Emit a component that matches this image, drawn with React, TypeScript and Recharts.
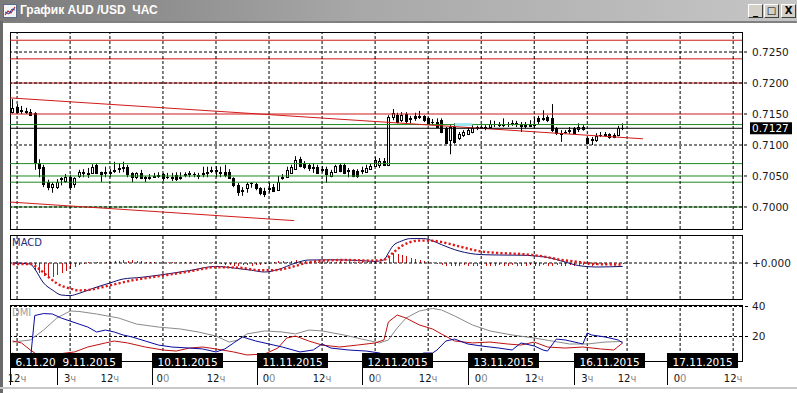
import React from "react";
import { ComposedChart, Bar, Line, XAxis, YAxis, ReferenceLine } from "recharts";

const FONT = "'DejaVu Sans', Verdana, sans-serif";

// одна свеча = один час, индекс 0 = 6.11 11:00
const OPEN = [
  0.7153, 0.7161, 0.7156, 0.7155, 0.7153, 0.7152, 0.7071, 0.7065, 0.7040, 0.7032,
  0.7032, 0.7045, 0.7042, 0.7048, 0.7037, 0.7050, 0.7055, 0.7055, 0.7056, 0.7068,
  0.7056, 0.7056, 0.7057, 0.7059, 0.7062, 0.7063, 0.7064, 0.7055, 0.7048, 0.7055,
  0.7048, 0.7047, 0.7049, 0.7050, 0.7053, 0.7048, 0.7048, 0.7052, 0.7047, 0.7052,
  0.7054, 0.7053, 0.7052, 0.7054, 0.7056, 0.7059, 0.7058, 0.7057, 0.7057, 0.7056,
  0.7047, 0.7035, 0.7027, 0.7031, 0.7039, 0.7037, 0.7031, 0.7026, 0.7030, 0.7032,
  0.7027, 0.7048, 0.7048, 0.7056, 0.7061, 0.7077, 0.7071, 0.7068, 0.7065, 0.7065,
  0.7061, 0.7061, 0.7050, 0.7056, 0.7068, 0.7068, 0.7060, 0.7060, 0.7058, 0.7059,
  0.7056, 0.7061, 0.7066, 0.7068, 0.7074, 0.7068, 0.7145, 0.7148, 0.7140, 0.7150,
  0.7143, 0.7147, 0.7145, 0.7147, 0.7143, 0.7137, 0.7137, 0.7140, 0.7127, 0.7108,
  0.7129, 0.7111, 0.7116, 0.7118, 0.7121, 0.7129, 0.7129, 0.7128, 0.7129, 0.7134,
  0.7134, 0.7133, 0.7134, 0.7135, 0.7135, 0.7134, 0.7131, 0.7132, 0.7133, 0.7144,
  0.7143, 0.7145, 0.7143, 0.7127, 0.7120, 0.7121, 0.7123, 0.7127, 0.7126, 0.7129,
  0.7111, 0.7108, 0.7108, 0.7116, 0.7117, 0.7118, 0.7116, 0.7116, 0.7127,
];
const HIGH = [
  0.7174, 0.7166, 0.7163, 0.7160, 0.7158, 0.7153, 0.7077, 0.7068, 0.7044, 0.7040,
  0.7045, 0.7048, 0.7053, 0.7052, 0.7048, 0.7060, 0.7061, 0.7063, 0.7069, 0.7071,
  0.7057, 0.7065, 0.7061, 0.7073, 0.7071, 0.7073, 0.7068, 0.7056, 0.7056, 0.7060,
  0.7050, 0.7053, 0.7055, 0.7056, 0.7055, 0.7055, 0.7055, 0.7056, 0.7056, 0.7056,
  0.7058, 0.7056, 0.7055, 0.7065, 0.7065, 0.7065, 0.7066, 0.7065, 0.7068, 0.7061,
  0.7048, 0.7039, 0.7032, 0.7040, 0.7040, 0.7039, 0.7032, 0.7031, 0.7039, 0.7037,
  0.7050, 0.7053, 0.7065, 0.7068, 0.7082, 0.7081, 0.7074, 0.7071, 0.7071, 0.7068,
  0.7066, 0.7065, 0.7060, 0.7068, 0.7071, 0.7071, 0.7063, 0.7061, 0.7061, 0.7065,
  0.7068, 0.7071, 0.7081, 0.7079, 0.7079, 0.7148, 0.7158, 0.7152, 0.7153, 0.7153,
  0.7147, 0.7152, 0.7155, 0.7148, 0.7145, 0.7142, 0.7143, 0.7143, 0.7129, 0.7132,
  0.7135, 0.7121, 0.7124, 0.7129, 0.7132, 0.7131, 0.7132, 0.7132, 0.7140, 0.7139,
  0.7137, 0.7143, 0.7137, 0.7140, 0.7139, 0.7137, 0.7137, 0.7140, 0.7145, 0.7147,
  0.7156, 0.7148, 0.7166, 0.7129, 0.7124, 0.7124, 0.7129, 0.7129, 0.7135, 0.7132,
  0.7113, 0.7113, 0.7119, 0.7121, 0.7121, 0.7119, 0.7119, 0.7131, 0.7135,
];
const LOW = [
  0.7151, 0.7151, 0.7150, 0.7150, 0.7147, 0.7060, 0.7048, 0.7032, 0.7027, 0.7023,
  0.7029, 0.7035, 0.7039, 0.7027, 0.7031, 0.7047, 0.7048, 0.7047, 0.7055, 0.7053,
  0.7040, 0.7048, 0.7048, 0.7055, 0.7055, 0.7056, 0.7048, 0.7040, 0.7045, 0.7045,
  0.7040, 0.7044, 0.7047, 0.7047, 0.7042, 0.7045, 0.7042, 0.7042, 0.7044, 0.7048,
  0.7048, 0.7048, 0.7045, 0.7048, 0.7048, 0.7055, 0.7048, 0.7048, 0.7048, 0.7046,
  0.7032, 0.7018, 0.7018, 0.7023, 0.7031, 0.7027, 0.7019, 0.7016, 0.7023, 0.7024,
  0.7026, 0.7044, 0.7047, 0.7055, 0.7060, 0.7064, 0.7061, 0.7058, 0.7055, 0.7055,
  0.7056, 0.7039, 0.7048, 0.7055, 0.7056, 0.7053, 0.7048, 0.7048, 0.7047, 0.7053,
  0.7055, 0.7060, 0.7065, 0.7063, 0.7066, 0.7066, 0.7140, 0.7135, 0.7137, 0.7135,
  0.7135, 0.7139, 0.7142, 0.7137, 0.7132, 0.7132, 0.7127, 0.7119, 0.7102, 0.7085,
  0.7102, 0.7108, 0.7113, 0.7116, 0.7119, 0.7124, 0.7126, 0.7124, 0.7126, 0.7129,
  0.7129, 0.7129, 0.7129, 0.7131, 0.7129, 0.7121, 0.7127, 0.7129, 0.7127, 0.7134,
  0.7139, 0.7137, 0.7121, 0.7116, 0.7105, 0.7118, 0.7118, 0.7118, 0.7121, 0.7123,
  0.7101, 0.7100, 0.7105, 0.7113, 0.7113, 0.7110, 0.7111, 0.7114, 0.7124,
];
const CLOSE = [
  0.7160, 0.7153, 0.7155, 0.7153, 0.7148, 0.7071, 0.7063, 0.7037, 0.7032, 0.7037,
  0.7040, 0.7046, 0.7048, 0.7032, 0.7047, 0.7056, 0.7056, 0.7054, 0.7065, 0.7055,
  0.7052, 0.7057, 0.7056, 0.7060, 0.7063, 0.7065, 0.7053, 0.7048, 0.7055, 0.7047,
  0.7046, 0.7048, 0.7050, 0.7052, 0.7047, 0.7048, 0.7049, 0.7045, 0.7048, 0.7053,
  0.7055, 0.7053, 0.7051, 0.7055, 0.7057, 0.7060, 0.7059, 0.7056, 0.7052, 0.7047,
  0.7035, 0.7023, 0.7028, 0.7037, 0.7039, 0.7031, 0.7023, 0.7021, 0.7031, 0.7026,
  0.7040, 0.7049, 0.7060, 0.7065, 0.7076, 0.7066, 0.7065, 0.7063, 0.7064, 0.7056,
  0.7062, 0.7053, 0.7056, 0.7066, 0.7058, 0.7055, 0.7059, 0.7050, 0.7050, 0.7060,
  0.7063, 0.7066, 0.7076, 0.7074, 0.7068, 0.7145, 0.7152, 0.7137, 0.7148, 0.7139,
  0.7144, 0.7144, 0.7146, 0.7140, 0.7135, 0.7137, 0.7129, 0.7121, 0.7103, 0.7129,
  0.7105, 0.7118, 0.7121, 0.7124, 0.7127, 0.7129, 0.7128, 0.7129, 0.7134, 0.7134,
  0.7133, 0.7134, 0.7134, 0.7136, 0.7134, 0.7130, 0.7132, 0.7133, 0.7134, 0.7139,
  0.7144, 0.7140, 0.7124, 0.7119, 0.7119, 0.7121, 0.7124, 0.7119, 0.7129, 0.7126,
  0.7103, 0.7109, 0.7115, 0.7116, 0.7118, 0.7113, 0.7113, 0.7127, 0.7127,
];
const LAST_PRICE = 0.7127;

const PRICE_TICKS = [0.7, 0.705, 0.71, 0.715, 0.72, 0.725];
const PRICE_GRID = [0.7, 0.71, 0.72, 0.725];
const RED_LEVELS = [0.7269, 0.7239, 0.72, 0.715];
const GREEN_LEVELS = [0.7133, 0.707, 0.705, 0.704, 0.7];
const CHANNEL_TOP = [{ x: -0.6, y: 0.7176 }, { x: 142.6, y: 0.711 }];
const CHANNEL_BOTTOM = [{ x: -0.6, y: 0.7008 }, { x: 63.7, y: 0.6978 }];
const CYAN_MARK = [{ x: 100, y: 0.7133 }, { x: 104, y: 0.7133 }];

// MACD: гистограмма по каждой свече, линии по опорным точкам [бар, значение]
const MACD_HIST = [
  0.000025, 0.000025, 0, -0.000025, -0.0001, -0.00035, -0.0005, -0.00065, -0.00075, -0.0007,
  -0.0006, -0.0005, -0.0004, -0.0003, -0.0002, -0.0001, -0.00005, 0.00005, 0.000025, 0.00005,
  0.000025, 0.00005, 0.00005, 0.0001, 0.0001, 0.00015, 0.0001, 0.00015, 0.0001, 0.0001,
  0.00005, 0.00005, 0.00005, 0.000025, 0.00005, 0.000025, 0.00005, 0.000025, 0.000025, 0.00005,
  0.00005, 0.000025, 0.00005, 0.00005, 0.000025, 0.00005, 0.000025, -0.00005, -0.0001, -0.0001,
  -0.00015, -0.00015, -0.0001, -0.0001, -0.00015, -0.0001, -0.0001, -0.00005, -0.00005, 0.00005,
  0.0001, 0.0001, 0.00005, 0.0001, 0.00015, 0.0001, 0.0001, 0.00005, 0.0001, 0.00005,
  0.00005, 0.0001, 0.00005, 0.00005, 0.0001, 0.00005, 0.0001, 0.00005, 0.00005, 0.0001,
  0.00005, 0.00005, 0.0001, 0.00005, 0.00005, 0.0003, 0.0005, 0.00045, 0.0004, 0.00035,
  0.00025, 0.0002, 0.00015, 0.0001, 0.00005, 0.000025, -0.00005, -0.0001, -0.00015, -0.00015,
  -0.00015, -0.00015, -0.0001, -0.00015, -0.00015, -0.00015, -0.0001, -0.00015, -0.00015, -0.00015,
  -0.0001, -0.00015, -0.00015, -0.0001, -0.00015, -0.00015, -0.00015, -0.0001, -0.00015, -0.00015,
  -0.0001, -0.00015, -0.00015, -0.0001, -0.00015, -0.00015, -0.0001, -0.00015, -0.00015, -0.0001,
  -0.0001, -0.00015, -0.0001, -0.0001, -0.0001, -0.00005, -0.0001, -0.00005, -0.00005,
];
const MACD_LINE = [
  [0, 0], [4, -0.00005], [5, -0.0003], [7, -0.001], [9, -0.00135], [11, -0.0016], [13, -0.00163],
  [15, -0.00152], [18, -0.00128], [22, -0.001], [25, -0.0008], [29, -0.00072], [34, -0.00058],
  [40, -0.00038], [46, -0.00017], [50, -0.00025], [54, -0.00036], [57, -0.00045], [60, -0.00033],
  [64, 0], [67, 0.00015], [72, 0.00016], [78, 0.00013], [82, 0.00008], [84, 0.00016], [85, 0.0005],
  [86, 0.00085], [88, 0.0011], [90, 0.00122], [93, 0.00122], [95, 0.00111], [97, 0.00092],
  [101, 0.0006], [106, 0.00042], [110, 0.0004], [115, 0.00039], [121, 0.00028], [125, 0.00005],
  [128, -0.00013], [132, -0.0002], [138, -0.00017],
];
const MACD_SIGNAL = [
  [0, -0.00005], [4, -0.00005], [6, -0.0003], [8, -0.00068], [10, -0.00102], [13, -0.00128],
  [15, -0.00137], [17, -0.00135], [22, -0.00112], [27, -0.00087], [34, -0.00063], [40, -0.00042],
  [46, -0.00021], [51, -0.00023], [56, -0.00036], [59, -0.00036], [63, -0.00021], [66, -0.00002],
  [70, 0.00012], [75, 0.00015], [81, 0.00012], [84, 0.00016], [86, 0.0005], [88, 0.00085],
  [90, 0.00105], [92, 0.00112], [95, 0.00111], [98, 0.001], [101, 0.00083], [106, 0.00058],
  [110, 0.0005], [115, 0.00045], [120, 0.00033], [124, 0.00016], [128, 0.00005], [132, -0.00005],
  [138, -0.00008],
];

// DMI: [бар, значение]
const DI_PLUS = [
  [0, 9], [3, 4], [4, 4], [5, 34], [7, 35.3], [9, 35], [11, 32.3], [13, 30.3], [15, 28.3],
  [17, 26.3], [19, 23], [21, 24.3], [23, 23], [25, 21], [27, 19.7], [30, 17], [33, 14.3],
  [36, 13], [40, 12.3], [43, 11.7], [46, 9.7], [48, 11.7], [50, 15.7], [52, 19.7], [55, 17],
  [58, 15], [61, 13], [65, 9.7], [68, 11], [70, 15], [72, 12.3], [76, 11], [80, 10.3], [83, 9],
  [86, 5.7], [90, 5.7], [93, 9], [95, 9], [96, 11], [98, 17], [100, 18.3], [103, 15], [106, 13.7],
  [110, 12.3], [113, 11], [115, 15.7], [118, 13.7], [120, 11], [121, 10.3], [123, 18.3],
  [125, 17.7], [128, 15.7], [129, 15], [130, 22.3], [131, 21], [134, 19.7], [137, 17.7], [138, 15.7],
];
const DI_MINUS = [
  [0, 17], [2, 15.7], [4, 11], [6, 7], [9, 7.7], [12, 9], [14, 9.7], [17, 13], [21, 15.7],
  [23, 17], [26, 15.7], [30, 13], [34, 11], [37, 10.3], [40, 12.3], [43, 13], [46, 11.7],
  [50, 9.7], [53, 7.7], [57, 8.3], [60, 12.3], [62, 19], [64, 20.3], [67, 17], [70, 14.3],
  [74, 13], [78, 14.3], [82, 15.7], [84, 17.7], [85, 29.7], [87, 34.3], [89, 32.3], [92, 27.7],
  [95, 25], [97, 21.7], [100, 17], [104, 15.7], [108, 16.3], [112, 15], [115, 14.3], [118, 16.3],
  [121, 13], [125, 12.3], [129, 13], [133, 11.7], [136, 11], [138, 15.7],
];
const ADX = [
  [0, 16.3], [4, 17.7], [7, 24.3], [10, 32.3], [13, 37], [15, 36.7], [19, 35], [24, 32.3],
  [28, 28.3], [33, 26.3], [38, 25], [42, 23], [46, 20.3], [49, 16.3], [51, 17.7], [53, 21.7],
  [57, 23.7], [61, 23], [64, 21.7], [67, 24.3], [70, 23.7], [75, 21], [79, 18.3], [83, 15.7],
  [85, 17.7], [87, 25.7], [89, 32.3], [92, 37], [95, 38.7], [97, 37.7], [100, 33.7], [104, 27.7],
  [108, 23.7], [113, 21], [118, 19], [122, 17], [126, 15], [130, 15], [134, 16.3], [138, 16.7],
];

// ось времени
const X_DOMAIN: [number, number] = [-0.6, 165];
const GRID_X = [1, 13, 22, 34, 46, 58, 70, 82, 94, 106, 118, 130, 139, 151, 163];
const HOUR_LABELS = ["12", "3", "12", "0", "12", "0", "12", "0", "12", "0", "12", "3", "12", "0", "12"];
const DATE_X = [-0.6, 10, 31.5, 55.3, 79.1, 103, 127, 148];
const DATE_LABELS = [
  "6.11.20", "9.11.2015", "10.11.2015", "11.11.2015",
  "12.11.2015", "13.11.2015", "16.11.2015", "17.11.2015",
];

const candles = OPEN.map((o, i) => ({ i, o, h: HIGH[i], l: LOW[i], c: CLOSE[i] }));
const histData = MACD_HIST.map((v, i) => ({ i, v }));
const toPts = (arr: number[][]) => arr.map(([i, v]) => ({ i, v }));

const GRID_DASH = "3 2";
const RED = "#d11a1a";
const GREEN = "#1e8a1e";

const AXIS_TICK = { fill: "#1a1a1a", fontSize: 10.5, fontFamily: FONT };
// все панели: svg от x=0, область построения 10..742
const PANEL_MARGIN = { top: 0, right: 0, bottom: 0, left: 10 };

function Candle(props: any) {
  const { x, y, width, height, payload } = props;
  if (!payload || height == null) return null;
  const { o, h, l, c } = payload;
  const k = height / (h - l);
  const cx = Math.round(x + width / 2) + 0.5;
  const yo = y + (h - o) * k;
  const yc = y + (h - c) * k;
  const top = Math.round(Math.min(yo, yc)) + 0.5;
  const bh = Math.round(Math.abs(yc - yo));
  return (
    <g>
      <line x1={cx} x2={cx} y1={y} y2={y + height} stroke="#000" strokeWidth={1} />
      {bh < 1 ? (
        <line x1={cx - 1.5} x2={cx + 1.5} y1={top} y2={top} stroke="#000" />
      ) : (
        <rect x={cx - 1} y={top} width={2} height={bh} fill={c >= o ? "#fff" : "#000"} stroke="#000" strokeWidth={1} />
      )}
    </g>
  );
}

function HistBar(props: any) {
  const { x, y, width, height } = props;
  if (height == null) return null;
  const cx = Math.round(x + width / 2) + 0.5;
  return <line x1={cx} x2={cx} y1={y} y2={y + height} stroke="#d01010" strokeWidth={1} />;
}

function LastLabel(props: any) {
  const { viewBox } = props;
  if (!viewBox) return null;
  const { x, y, width } = viewBox;
  return (
    <g>
      <rect x={x + width + 8} y={y - 6} width={42} height={12} fill="#000" />
      <text x={x + width + 10} y={y + 4} fill="#fff" fontSize={10.5} fontFamily={FONT}>
        {LAST_PRICE.toFixed(4)}
      </text>
    </g>
  );
}

function TimeTick(props: any) {
  const { x, y, payload } = props;
  const v = payload.value;
  const di = DATE_X.indexOf(v);
  if (di >= 0) {
    const label = DATE_LABELS[di];
    const w = 10 + label.length * 6.1;
    const bx = Math.round(x) + 0.5;
    return (
      <g>
        <rect x={bx - 0.5} y={y - 8} width={w} height={15} fill="#000" />
        <text x={bx + 5} y={y + 4.5} fill="#fff" fontSize={10.5} fontFamily={FONT}>
          {label}
        </text>
        <line x1={bx} x2={bx} y1={y + 7} y2={y + 24} stroke="#000" />
      </g>
    );
  }
  const gi = GRID_X.indexOf(v);
  if (gi < 0) return null;
  const hour = HOUR_LABELS[gi];
  return (
    <text x={x} y={y + 21} textAnchor="middle" fontSize={10} fontFamily={FONT}>
      <tspan fill="#111">{hour}</tspan>
      <tspan fill="#8a8a8a">{hour === "0" ? "0" : "ч"}</tspan>
    </text>
  );
}

const vGrid = (prefix: string) =>
  GRID_X.map((g) => (
    <ReferenceLine key={prefix + g} x={g} stroke="#000" strokeDasharray={GRID_DASH} />
  ));

const panelBox = (top: number, height: number): React.CSSProperties => ({
  position: "absolute",
  left: 10,
  top,
  width: 733,
  height,
  border: "1px solid #000",
  boxSizing: "border-box",
});

function TitleBar() {
  const btn: React.CSSProperties = {
    position: "absolute",
    top: 4,
    width: 15,
    height: 14,
    boxSizing: "border-box",
    background: "#d4d0c8",
    borderTop: "1px solid #fff",
    borderLeft: "1px solid #fff",
    borderRight: "1px solid #404040",
    borderBottom: "1px solid #404040",
    fontFamily: FONT,
    fontWeight: 700,
    fontSize: 10,
    lineHeight: "12px",
    textAlign: "center",
    color: "#000",
  };
  return (
    <div
      style={{
        position: "absolute",
        left: 0,
        top: 0,
        width: 797,
        height: 21,
        background: "linear-gradient(to right, #7a7a7a 0%, #a8a8a8 45%, #c6c6c6 100%)",
        borderBottom: "2px solid #808080",
      }}
    >
      <svg width={14} height={14} style={{ position: "absolute", left: 3, top: 4 }}>
        <rect x={0.5} y={0.5} width={13} height={13} fill="#f4f4f4" stroke="#5a6a8a" />
        <polyline points="2,11 5,7 8,9 12,3" fill="none" stroke="#c02020" strokeWidth={1.2} />
        <polyline points="2,8 6,10 9,5 12,6" fill="none" stroke="#2040b0" strokeWidth={1} />
      </svg>
      <div
        style={{
          position: "absolute",
          left: 20,
          top: 3,
          color: "#fff",
          fontFamily: "'Liberation Sans', Arial, sans-serif",
          fontWeight: 700,
          fontSize: 12,
          whiteSpace: "pre",
        }}
      >
        {"График AUD /USD  ЧАС"}
      </div>
      <div style={{ ...btn, left: 748 }}>_</div>
      <div style={{ ...btn, left: 764 }}>□</div>
      <div style={{ ...btn, left: 781 }}>X</div>
    </div>
  );
}

export default function App() {
  return (
    <div
      style={{
        position: "absolute",
        left: 0,
        top: 0,
        width: 797,
        height: 393,
        background: "#fff",
        overflow: "hidden",
        fontFamily: FONT,
      }}
    >
      <TitleBar />
      <div style={{ position: "absolute", left: 0, top: 21, width: 3, height: 372, background: "#6a6a6a" }} />
      <div style={{ position: "absolute", left: 0, top: 387, width: 797, height: 2, background: "#c8c8c8" }} />

      <div style={panelBox(32, 198)} />
      <div style={panelBox(235, 65)} />
      <div style={panelBox(305, 57)} />

      {/* цена */}
      <div style={{ position: "absolute", left: 0, top: 32 }}>
        <ComposedChart width={797} height={197} data={candles} margin={PANEL_MARGIN}>
          <XAxis type="number" dataKey="i" domain={X_DOMAIN} allowDataOverflow hide />
          <YAxis
            orientation="right"
            width={55}
            domain={[0.69645, 0.72823]}
            allowDataOverflow
            ticks={PRICE_TICKS}
            interval={0}
            tickFormatter={(v: number) => v.toFixed(4)}
            axisLine={false}
            tickSize={5}
            tickMargin={5}
            tickLine={{ stroke: "#000", strokeDasharray: GRID_DASH }}
            tick={AXIS_TICK}
          />
          {RED_LEVELS.map((p) => (
            <ReferenceLine key={"r" + p} y={p} stroke={RED} strokeWidth={1} />
          ))}
          {GREEN_LEVELS.map((p) => (
            <ReferenceLine key={"g" + p} y={p} stroke={GREEN} strokeWidth={1} />
          ))}
          {PRICE_GRID.map((p) => (
            <ReferenceLine key={"h" + p} y={p} stroke="#000" strokeDasharray={GRID_DASH} />
          ))}
          {vGrid("m")}
          <ReferenceLine segment={CHANNEL_TOP} stroke={RED} strokeWidth={1} />
          <ReferenceLine segment={CHANNEL_BOTTOM} stroke={RED} strokeWidth={1} />
          <ReferenceLine segment={CYAN_MARK} stroke="#9fe6f0" strokeWidth={3} />
          <ReferenceLine y={LAST_PRICE} stroke="#000" strokeWidth={1} label={(p: any) => <LastLabel {...p} />} />
          <Bar
            dataKey={(d: any) => [d.l, d.h]}
            shape={(p: any) => <Candle {...p} />}
            barSize={4}
            isAnimationActive={false}
          />
        </ComposedChart>
      </div>

      {/* MACD */}
      <div style={{ position: "absolute", left: 0, top: 235 }}>
        <ComposedChart width={797} height={64} data={histData} margin={PANEL_MARGIN}>
          <XAxis type="number" dataKey="i" domain={X_DOMAIN} allowDataOverflow hide />
          <YAxis
            orientation="right"
            width={55}
            domain={[-0.0018, 0.0014]}
            allowDataOverflow
            ticks={[0]}
            tickFormatter={(v: number) => (v >= 0 ? "+" : "") + v.toFixed(3)}
            axisLine={false}
            tickSize={6}
            tickMargin={4}
            tickLine={{ stroke: "#000", strokeDasharray: GRID_DASH }}
            tick={AXIS_TICK}
          />
          <ReferenceLine y={0} stroke="#000" strokeDasharray={GRID_DASH} />
          {vGrid("d")}
          <Bar dataKey="v" shape={(p: any) => <HistBar {...p} />} barSize={1} isAnimationActive={false} />
          <Line
            data={toPts(MACD_LINE)}
            dataKey="v"
            type="monotone"
            stroke="#101070"
            strokeWidth={1}
            dot={false}
            isAnimationActive={false}
          />
          <Line
            data={toPts(MACD_SIGNAL)}
            dataKey="v"
            type="monotone"
            stroke="#e01818"
            strokeWidth={2.4}
            strokeDasharray="2.2 2.2"
            dot={false}
            isAnimationActive={false}
          />
        </ComposedChart>
      </div>
      <div style={{ position: "absolute", left: 12, top: 237, fontSize: 10, color: "#2a2a7a", fontFamily: FONT }}>MACD</div>

      {/* DMI */}
      <div style={{ position: "absolute", left: 0, top: 295 }}>
        <ComposedChart width={797} height={98} margin={{ ...PANEL_MARGIN, top: 10 }}>
          <XAxis
            type="number"
            dataKey="i"
            domain={X_DOMAIN}
            allowDataOverflow
            ticks={[...DATE_X, ...GRID_X]}
            interval={0}
            tick={(p: any) => <TimeTick {...p} />}
            tickLine={false}
            axisLine={false}
            tickSize={0}
            tickMargin={0}
            height={32}
          />
          <YAxis
            orientation="right"
            width={55}
            domain={[3.67, 41]}
            allowDataOverflow
            ticks={[20, 40]}
            interval={0}
            axisLine={false}
            tickSize={6}
            tickMargin={4}
            tickLine={{ stroke: "#000", strokeDasharray: GRID_DASH }}
            tick={AXIS_TICK}
          />
          <ReferenceLine y={20} stroke="#000" strokeDasharray={GRID_DASH} />
          <ReferenceLine y={40} stroke="#000" strokeDasharray={GRID_DASH} />
          {vGrid("x")}
          <Line data={toPts(ADX)} dataKey="v" stroke="#8a8a8a" strokeWidth={1} dot={false} isAnimationActive={false} />
          <Line data={toPts(DI_MINUS)} dataKey="v" stroke="#c01010" strokeWidth={1} dot={false} isAnimationActive={false} />
          <Line data={toPts(DI_PLUS)} dataKey="v" stroke="#0a0aa0" strokeWidth={1} dot={false} isAnimationActive={false} />
        </ComposedChart>
      </div>
      <div style={{ position: "absolute", left: 12, top: 307, fontSize: 10, color: "#a0a0a0", fontFamily: FONT }}>DMI</div>
    </div>
  );
}
